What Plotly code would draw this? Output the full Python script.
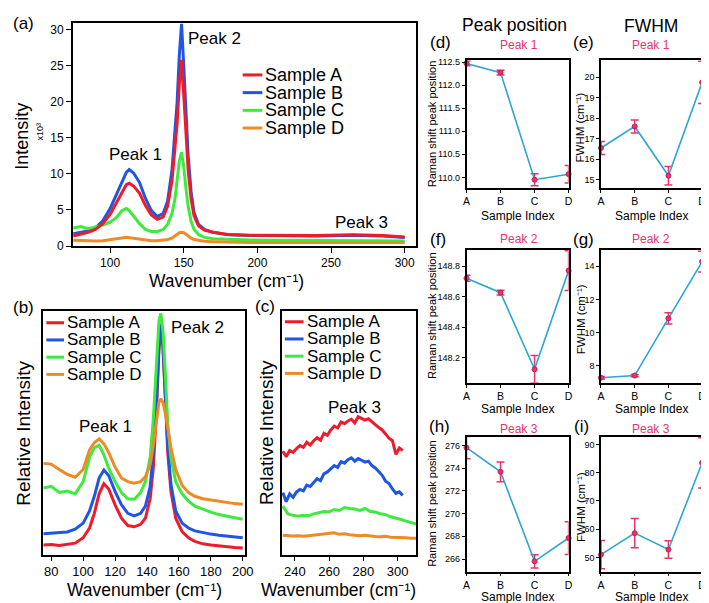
import plotly.graph_objects as go

W, H = 709, 603
FONT = "Arial, 'Liberation Sans', sans-serif"
NARROW = "'Liberation Sans Narrow', 'Arial Narrow', Arial, 'Liberation Sans', sans-serif"

RED, BLUE, GREEN, ORANGE = "#ec1c2a", "#1f55e6", "#3dea3d", "#ef8a25"
PINK, CYAN = "#e8336a", "#2aa5d5"

samples = ["Sample A", "Sample B", "Sample C", "Sample D"]

# ---------------- panel (a): raw spectra (intensity x10^3) ----------------
wn_a = [75, 80, 85, 90, 95, 100, 104, 108, 111, 113, 116, 120, 124, 128, 132, 136, 139, 142, 144,
        145.5, 147, 148.5, 150, 151.5, 153, 155, 157, 160, 164, 170, 180, 195, 215, 240, 265, 285, 300]
a_A = [1.4, 1.6, 1.9, 2.3, 3.1, 4.4, 5.9, 7.5, 8.5, 8.7, 8.3, 7.3, 5.6, 4.3, 3.7, 4.0, 5.5, 9.0, 13.0,
       17.0, 22.5, 25.8, 21.0, 15.5, 10.5, 6.5, 4.2, 2.8, 2.2, 1.9, 1.6, 1.5, 1.45, 1.45, 1.55, 1.45, 1.25]
a_B = [1.7, 1.9, 2.1, 2.5, 3.5, 5.2, 7.0, 9.0, 10.2, 10.6, 10.1, 8.8, 6.6, 4.9, 4.1, 4.5, 6.2, 10.5, 15.5,
       20.0, 26.5, 30.8, 25.0, 18.5, 12.5, 7.5, 4.6, 3.0, 2.3, 1.9, 1.55, 1.45, 1.4, 1.4, 1.5, 1.4, 1.2]
a_C = [2.5, 2.7, 2.4, 2.6, 2.9, 3.3, 3.9, 4.9, 5.2, 4.9, 4.1, 3.1, 2.3, 2.0, 2.0, 2.3, 3.0, 4.5, 6.5,
       8.8, 11.8, 13.0, 11.0, 8.0, 5.5, 3.4, 2.3, 1.6, 1.2, 1.0, 0.9, 0.85, 0.8, 0.8, 0.8, 0.75, 0.7]
a_D = [0.8, 0.75, 0.7, 0.7, 0.75, 0.85, 0.95, 1.1, 1.2, 1.15, 1.05, 0.9, 0.8, 0.75, 0.75, 0.8, 0.9, 1.1, 1.4,
       1.65, 1.85, 1.9, 1.85, 1.65, 1.4, 1.1, 0.9, 0.75, 0.65, 0.6, 0.55, 0.5, 0.5, 0.5, 0.5, 0.5, 0.5]
ticks_a_x = [100, 150, 200, 250, 300]
ticks_a_y = [0, 5, 10, 15, 20, 25, 30]

# ---------------- panel (b): normalised, offset (peaks 1 & 2) ----------------
wn_b = [75, 80, 85, 90, 95, 100, 104, 107, 110, 113, 116, 120, 124, 128, 132, 136, 139, 142, 144, 146,
        147.5, 148.7, 150, 151.5, 153, 155, 158, 162, 166, 170, 175, 180, 185, 190, 195, 200]
b_A = [0.040, 0.042, 0.038, 0.042, 0.048, 0.070, 0.110, 0.170, 0.250, 0.292, 0.270, 0.205, 0.150, 0.120,
       0.115, 0.125, 0.150, 0.230, 0.360, 0.600, 0.840, 0.940, 0.850, 0.640, 0.420, 0.260, 0.150, 0.095,
       0.070, 0.055, 0.045, 0.040, 0.036, 0.033, 0.030, 0.028]
b_B = [0.086, 0.088, 0.090, 0.094, 0.105, 0.130, 0.180, 0.240, 0.315, 0.348, 0.325, 0.260, 0.205, 0.170,
       0.160, 0.170, 0.200, 0.280, 0.420, 0.640, 0.860, 0.948, 0.860, 0.660, 0.450, 0.290, 0.180, 0.130,
       0.110, 0.098, 0.090, 0.085, 0.080, 0.076, 0.073, 0.070]
b_C = [0.274, 0.281, 0.256, 0.262, 0.250, 0.300, 0.400, 0.440, 0.449, 0.410, 0.355, 0.300, 0.255, 0.230,
       0.228, 0.255, 0.300, 0.400, 0.560, 0.800, 0.960, 0.990, 0.920, 0.740, 0.540, 0.400, 0.300, 0.250,
       0.220, 0.200, 0.186, 0.175, 0.165, 0.160, 0.152, 0.146]
b_D = [0.375, 0.372, 0.350, 0.330, 0.318, 0.350, 0.430, 0.460, 0.476, 0.455, 0.420, 0.360, 0.315, 0.300,
       0.294, 0.300, 0.320, 0.370, 0.450, 0.560, 0.625, 0.640, 0.625, 0.580, 0.520, 0.440, 0.350, 0.285,
       0.255, 0.240, 0.230, 0.226, 0.222, 0.215, 0.210, 0.207]
ticks_b_x = [80, 100, 120, 140, 160, 180, 200]

# ---------------- panel (c): normalised, offset (peak 3) ----------------
wn_c_ab = [233, 235, 237, 239, 241, 243, 245, 247, 249, 251, 253, 255, 257, 259, 261, 263, 265, 267,
           269, 271, 273, 275, 277, 279, 281, 283, 285, 287, 289, 291, 293, 295, 297, 299, 301, 303]
c_A = [0.425, 0.402, 0.428, 0.420, 0.436, 0.448, 0.441, 0.462, 0.450, 0.468, 0.480, 0.470, 0.498, 0.490,
       0.512, 0.528, 0.520, 0.545, 0.538, 0.549, 0.556, 0.541, 0.566, 0.560, 0.552, 0.558, 0.545, 0.536,
       0.522, 0.512, 0.497, 0.478, 0.468, 0.412, 0.438, 0.428]
c_B = [0.255, 0.218, 0.250, 0.236, 0.258, 0.268, 0.262, 0.286, 0.280, 0.298, 0.312, 0.304, 0.332, 0.340,
       0.352, 0.366, 0.358, 0.382, 0.376, 0.390, 0.398, 0.384, 0.395, 0.388, 0.380, 0.384, 0.366, 0.356,
       0.340, 0.326, 0.302, 0.292, 0.270, 0.252, 0.258, 0.244]
wn_c_cd = [233, 236, 239, 242, 245, 248, 251, 254, 257, 260, 263, 266, 269, 272, 275, 278, 281, 284,
           287, 290, 293, 296, 299, 302, 305, 308, 311]
c_C = [0.200, 0.168, 0.162, 0.158, 0.162, 0.160, 0.168, 0.172, 0.178, 0.176, 0.186, 0.182, 0.194, 0.190,
       0.188, 0.182, 0.190, 0.178, 0.176, 0.168, 0.165, 0.156, 0.152, 0.145, 0.138, 0.132, 0.126]
c_D = [0.080, 0.078, 0.077, 0.078, 0.076, 0.078, 0.080, 0.082, 0.084, 0.086, 0.090, 0.084, 0.086, 0.082,
       0.080, 0.078, 0.080, 0.076, 0.075, 0.074, 0.076, 0.072, 0.072, 0.070, 0.070, 0.068, 0.068]
ticks_c_x = [240, 260, 280, 300]

# ---------------- panels (d)-(i): fitted peak parameters ----------------
sample_idx = ["A", "B", "C", "D"]
pos1 = [112.47, 112.27, 109.95, 110.07]
pos1_err = [0.05, 0.05, 0.13, 0.19]
fw1 = [16.55, 17.6, 15.2, 19.75]
fw1_err = [0.32, 0.32, 0.45, 1.03]
pos2 = [148.72, 148.626, 148.125, 148.77]
pos2_err = [0.02, 0.015, 0.09, 0.13]
fw2 = [7.29, 7.42, 10.86, 14.27]
fw2_err = [0.08, 0.07, 0.34, 0.63]
pos3 = [275.8, 273.67, 265.8, 267.85]
pos3_err = [0.98, 0.87, 0.58, 1.44]
fw3 = [51.0, 58.6, 52.8, 83.5]
fw3_err = [5.0, 5.2, 3.1, 8.9]

fig = go.Figure()

def spec(x, y, color, ax):
    fig.add_trace(go.Scatter(x=x, y=y, mode="lines", line=dict(color=color, width=3),
                             showlegend=False, xaxis="x" + ax, yaxis="y" + ax, hoverinfo="skip"))

# (a)
spec(wn_a, a_B, BLUE, "")
spec(wn_a, a_C, GREEN, "")
spec(wn_a, a_D, ORANGE, "")
spec(wn_a, a_A, RED, "")
# (b)
spec(wn_b, b_A, RED, "2")
spec(wn_b, b_B, BLUE, "2")
spec(wn_b, b_C, GREEN, "2")
spec(wn_b, b_D, ORANGE, "2")
# (c)
spec(wn_c_ab, c_A, RED, "3")
spec(wn_c_ab, c_B, BLUE, "3")
spec(wn_c_cd, c_C, GREEN, "3")
spec(wn_c_cd, c_D, ORANGE, "3")

def param(y, err, ax):
    fig.add_trace(go.Scatter(
        x=sample_idx, y=y, mode="lines+markers",
        line=dict(color=CYAN, width=1.6),
        marker=dict(color=PINK, size=5, line=dict(color="#c21f55", width=1)),
        error_y=dict(type="data", array=err, visible=True, color=PINK, thickness=1.5, width=4),
        cliponaxis=False, showlegend=False, xaxis="x" + ax, yaxis="y" + ax))

param(pos1, pos1_err, "4")
param(fw1, fw1_err, "5")
param(pos2, pos2_err, "6")
param(fw2, fw2_err, "7")
param(pos3, pos3_err, "8")
param(fw3, fw3_err, "9")

def dom_x(x0, x1):
    return [x0 / W, x1 / W]

def dom_y(y0, y1):
    return [1 - y1 / H, 1 - y0 / H]

def base_axis(**kw):
    d = dict(showline=True, linecolor="black", linewidth=1.6, mirror=True, ticks="outside",
             ticklen=4, tickwidth=1.3, tickcolor="black", showgrid=False, zeroline=False,
             tickfont=dict(family=NARROW, size=12, color="black"))
    d.update(kw)
    return d

layout = dict(
    width=W, height=H, margin=dict(l=0, r=0, t=0, b=0),
    paper_bgcolor="white", plot_bgcolor="white", showlegend=False,
    font=dict(family=FONT, color="black"),
)

# (a)
layout["xaxis"] = base_axis(domain=dom_x(62, 412), range=[74.7, 308], tickvals=ticks_a_x, anchor="y", ticklen=5)
layout["yaxis"] = base_axis(domain=dom_y(12, 239), range=[0, 30.95], tickvals=ticks_a_y, anchor="x", ticklen=5)
# (b)
layout["xaxis2"] = base_axis(domain=dom_x(32, 237), range=[75.1, 201.2], tickvals=ticks_b_x, anchor="y2",
                             ticklen=4, tickfont=dict(family=NARROW, size=13, color="black"))
layout["yaxis2"] = base_axis(domain=dom_y(305, 553), range=[0, 1], anchor="x2", ticks="", showticklabels=False)
# (c)
layout["xaxis3"] = base_axis(domain=dom_x(275, 412), range=[232.5, 311], tickvals=ticks_c_x, anchor="y3",
                             ticklen=4, tickfont=dict(family=NARROW, size=13, color="black"))
layout["yaxis3"] = base_axis(domain=dom_y(305, 553), range=[0, 1], anchor="x3", ticks="", showticklabels=False)

small = [
    ("4", (463, 567), (50, 180), [109.77, 112.54], dict(dtick=0.5, tick0=110, tickformat=".1f")),
    ("5", (600, 703), (50, 180), [14.6, 20.83], dict(dtick=1, tick0=15)),
    ("6", (463, 567), (243, 378), [148.037, 148.905], dict(dtick=0.2, tick0=148.2, tickformat=".1f")),
    ("7", (600, 703), (243, 378), [6.99, 14.97], dict(dtick=2, tick0=8)),
    ("8", (463, 567), (433, 570), [264.9, 276.75], dict(dtick=2, tick0=266)),
    ("9", (600, 703), (433, 570), [45.0, 92.7], dict(dtick=10, tick0=50)),
]
for ax, xd, yd, yr, tk in small:
    layout["xaxis" + ax] = base_axis(domain=dom_x(*xd), type="category", range=[0, 3], anchor="y" + ax,
                                     categoryorder="array", categoryarray=sample_idx, ticklen=3,
                                     tickfont=dict(family=FONT, size=10.5, color="black"))
    layout["yaxis" + ax] = base_axis(domain=dom_y(*yd), range=yr, anchor="x" + ax, ticklen=3,
                                     tickfont=dict(family=NARROW, size=9, color="black"), **tk)

ann = []
def text(t, x, y, size, color="black", angle=0, family=FONT, xanchor="center"):
    ann.append(dict(xref="paper", yref="paper", x=x / W, y=1 - y / H, text=t, showarrow=False,
                    textangle=angle, xanchor=xanchor, yanchor="middle",
                    font=dict(family=family, size=size, color=color)))

# panel labels
text("(a)", 12, 13, 17)
text("(b)", 12, 302, 17)
text("(c)", 258, 300, 17)
text("(d)", 436, 32, 17)
text("(e)", 582, 32, 17)
text("(f)", 434, 232, 17)
text("(g)", 582, 232, 17)
text("(h)", 435, 422, 17)
text("(i)", 580, 422, 17)

# column titles
text("Peak position", 512, 14, 17.5)
text("FWHM", 651, 15, 17.5)

# axis titles
text("Intensity", 10, 127, 18, angle=-90)
text("x10³", 28, 122, 9, angle=-90)
text("Wavenumber (cm⁻¹)", 218, 275, 17.5)
text("Relative Intensity", 12, 429, 19, angle=-90)
text("Wavenumber (cm⁻¹)", 135, 589, 17.5)
text("Relative Intensity", 260, 429, 19, angle=-90)
text("Wavenumber (cm⁻¹)", 333, 589, 17.5)

for ycen, yb in [(115, 208), (310, 405), (501, 596)]:
    text("Raman shift peak position", 428, ycen, 11, angle=-90)
    text("FWHM (cm⁻¹)", 579, ycen + 3, 11.5, angle=-90)
    text("Sample Index", 515, yb, 12)
    text("Sample Index", 651, yb, 12)

# pink sub-titles
for lbl, yy in [("Peak 1", 35), ("Peak 2", 232), ("Peak 3", 425)]:
    text(lbl, 516, yy, 12, color=PINK)
    text(lbl, 651, yy, 12, color=PINK)

# peak annotations on spectra
text("Peak 1", 126, 146, 17)
text("Peak 2", 206, 28, 17)
text("Peak 3", 356, 215, 17)
text("Peak 1", 95, 423, 17)
text("Peak 2", 189, 322, 17)
text("Peak 3", 349, 403, 17)

# manual legends (line sample + label)
shapes = []
colors = [RED, BLUE, GREEN, ORANGE]
def legend(x0, x1, ys, size):
    for s, c, yy in zip(samples, colors, ys):
        shapes.append(dict(type="line", xref="paper", yref="paper", x0=x0 / W, x1=x1 / W,
                           y0=1 - yy / H, y1=1 - yy / H, line=dict(color=c, width=3)))
        text(s, x1 + 1, yy, size, xanchor="left")

legend(235, 255, [65, 83, 101, 119], 18)
legend(35, 53, [317, 334.5, 352, 369.5], 17)
legend(278, 297, [316, 333.5, 351, 368.5], 17)

layout["annotations"] = ann
layout["shapes"] = shapes
fig.update_layout(**layout)
fig.write_html("out.html")
